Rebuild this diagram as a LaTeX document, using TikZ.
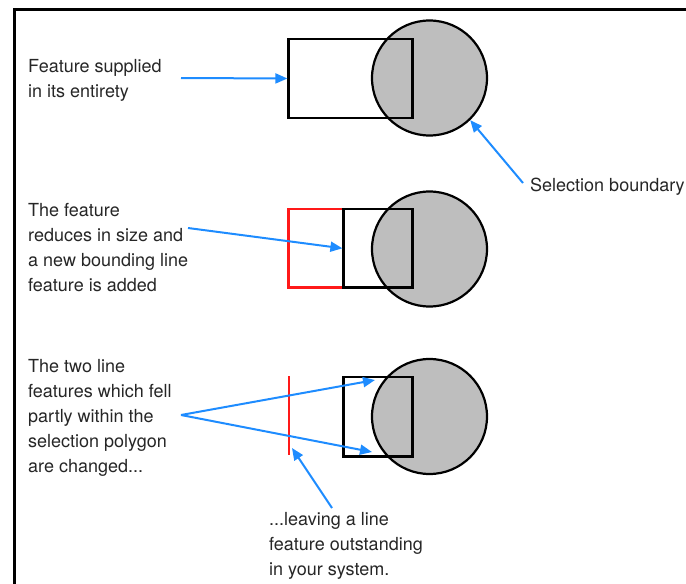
\documentclass[tikz,border=0pt]{standalone}
\usepackage{fontspec}
\setmainfont{TeX Gyre Heros}
\usetikzlibrary{arrows.meta}
\definecolor{selblue}{RGB}{30,140,255}
\definecolor{selgray}{RGB}{190,190,190}
\definecolor{selred}{RGB}{255,25,25}
\begin{document}
\begin{tikzpicture}[x=1pt, y=-1pt, >={Triangle[length=12pt,width=10pt]},
  lbl/.style={anchor=base west, align=left, inner sep=0pt, text=black!85, font=\fontsize{18}{25}\selectfont},
  ptr/.style={->, selblue, line width=2pt},
  bound/.style={circle, draw, line width=2.2pt, fill=selgray, minimum size=115pt, inner sep=0pt},
  feat/.style={draw, line width=2.2pt, inner sep=0pt}]
  \useasboundingbox (0,0) rectangle (686,584);
  % frame
  \draw[line width=3pt] (14,584) -- (14,9) -- (686,9);
  % feature supplied whole
  \node[bound] (c1) at (429.5,78) {};
  \node[feat, minimum width=124pt, minimum height=79pt] (r1) at (350.5,78.5) {};
  \node[lbl] (t1) at (28,97) {Feature supplied\\in its entirety};
  \coordinate (a1) at (181,78);
  \draw[ptr] (a1) -- (r1.west);
  \node[lbl] (tsel) at (530,191) {Selection boundary};
  \coordinate (asel) at (523,183);
  \draw[ptr] (asel) -- (c1.-46);
  % feature reduced
  \node[bound] (c2) at (429.5,249) {};
  \draw[selred, line width=2.2pt] (344,209) -- (288.5,209) -- (288.5,287.5) -- (344,287.5);
  \node[feat, minimum width=69pt, minimum height=78.5pt] (r2) at (378,248.3) {};
  \node[lbl] (t2) at (28,291.5) {The feature\\reduces in size and\\a new bounding line\\feature is added};
  \coordinate (a2) at (188,228);
  \draw[ptr] (a2) -- (r2.west);
  % line features changed
  \node[bound] (c3) at (429.5,416.5) {};
  \node[feat, minimum width=69pt, minimum height=79.5pt] (r3) at (378,416.8) {};
  \draw[selred, line width=2.2pt] (288.7,376) -- (288.7,455);
  \node[lbl] (t3) at (28,472) {The two line\\features which fell\\partly within the\\selection polygon\\are changed...};
  \coordinate (a3) at (181,415);
  \coordinate (h3a) at (375,380);
  \coordinate (h3b) at (372,452);
  \draw[ptr] (a3) -- (h3a);
  \draw[ptr] (a3) -- (h3b);
  \node[lbl] (t4) at (269,575) {...leaving a line\\feature outstanding\\in your system.};
  \coordinate (a4) at (332,508);
  \coordinate (h4) at (292,448);
  \draw[ptr] (a4) -- (h4);
\end{tikzpicture}
\end{document}
